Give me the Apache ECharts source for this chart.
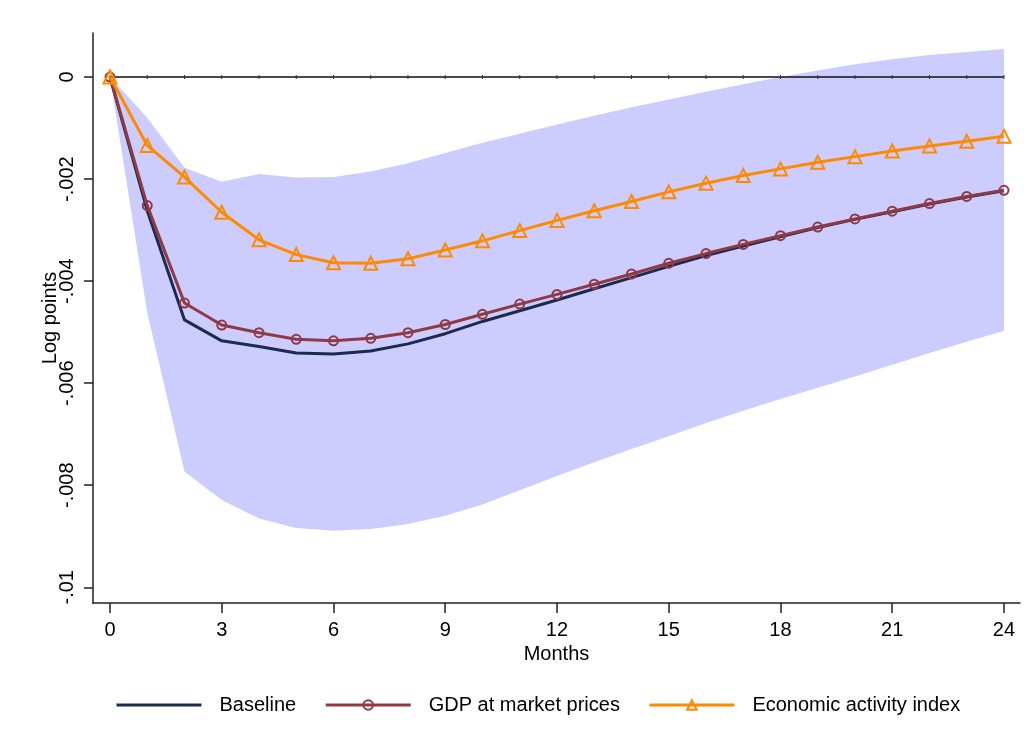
<!DOCTYPE html>
<html>
<head>
<meta charset="utf-8">
<script src="https://cdn.jsdelivr.net/npm/echarts@6/dist/echarts.min.js"></script>
<style>html,body{margin:0;padding:0;background:#fff;}#c{width:1036px;height:756px;}</style>
</head>
<body>
<div id="c"></div>
<script>
var months = [0,1,2,3,4,5,6,7,8,9,10,11,12,13,14,15,16,17,18,19,20,21,22,23,24];
var baseline = [0,-0.00262,-0.00476,-0.00517,-0.00528,-0.00541,-0.00543,-0.00537,-0.00523,-0.00503,-0.00479,-0.00458,-0.00437,-0.00415,-0.00393,-0.00371,-0.00350,-0.00331,-0.00313,-0.00295,-0.00279,-0.00264,-0.00249,-0.00235,-0.00223];
var gdp = [0,-0.00252,-0.00443,-0.00486,-0.00501,-0.00514,-0.00517,-0.00512,-0.00501,-0.00485,-0.00465,-0.00445,-0.00426,-0.00406,-0.00386,-0.00365,-0.00346,-0.00328,-0.00311,-0.00294,-0.00278,-0.00263,-0.00248,-0.00234,-0.00222];
var econ = [0,-0.00134,-0.00196,-0.00265,-0.00319,-0.00348,-0.00364,-0.00365,-0.00356,-0.00339,-0.00321,-0.00301,-0.00281,-0.00262,-0.00244,-0.00225,-0.00208,-0.00193,-0.00180,-0.00167,-0.00156,-0.00145,-0.00135,-0.00126,-0.00116];
var ciUpper = [0,-0.00080,-0.00178,-0.00205,-0.00190,-0.00197,-0.00196,-0.00185,-0.00169,-0.00149,-0.00129,-0.00111,-0.00093,-0.00076,-0.00059,-0.00044,-0.00029,-0.00014,0.00000,0.00013,0.00025,0.00035,0.00043,0.00049,0.00055];
var ciLower = [0,-0.00462,-0.00773,-0.00829,-0.00865,-0.00884,-0.00889,-0.00886,-0.00876,-0.00860,-0.00838,-0.00810,-0.00782,-0.00755,-0.00729,-0.00704,-0.00678,-0.00654,-0.00631,-0.00609,-0.00587,-0.00564,-0.00541,-0.00519,-0.00497];
var xTicks = [0,3,6,9,12,15,18,21,24];
var yTicks = [0,-0.002,-0.004,-0.006,-0.008,-0.01];
var yTickLabels = ['0','-.002','-.004','-.006','-.008','-.01'];
var seriesNames = ['Baseline','GDP at market prices','Economic activity index'];

function pairs(ys){ return months.map(function(m,i){ return [m, ys[i]]; }); }
var bandData = months.map(function(m,i){ return [m, ciLower[i], ciUpper[i]]; });

var FONT = 'Liberation Sans';
var NAVY = '#1b2b4e', MAROON = '#8e3a44', ORANGE = '#ff8a00', BAND = '#ccccff';

var chart = echarts.init(document.getElementById('c'), null, {renderer:'canvas'});
chart.setOption({
  animation: false,
  backgroundColor: '#fff',
  textStyle: {fontFamily: FONT},
  grid: {left: 93, right: 16, top: 33, bottom: 153, containLabel: false},
  xAxis: {
    type: 'value', min: -0.4564, max: 24.43,
    name: 'Months', nameLocation: 'middle', nameGap: 41, nameMoveOverlap: false,
    nameTextStyle: {fontSize: 20, color: '#000', fontFamily: FONT},
    axisLine: {show: true, onZero: false, lineStyle: {color: '#222', width: 1.5}},
    axisTick: {show: true, length: 10, customValues: xTicks, lineStyle: {color: '#222', width: 1.5}},
    axisLabel: {customValues: xTicks, margin: 17, fontSize: 20, color: '#000', fontFamily: FONT},
    splitLine: {show: false}
  },
  yAxis: {
    type: 'value', min: -0.010308, max: 0.000863,
    name: 'Log points', nameLocation: 'middle', nameGap: 33, nameMoveOverlap: false,
    nameTextStyle: {fontSize: 20, color: '#000', fontFamily: FONT},
    axisLine: {show: true, onZero: false, lineStyle: {color: '#222', width: 1.5}},
    axisTick: {show: true, length: 9, customValues: yTicks, lineStyle: {color: '#222', width: 1.5}},
    axisLabel: {
      customValues: yTicks, rotate: 90, margin: 16, fontSize: 20, color: '#000', fontFamily: FONT,
      formatter: function(v){
        var best = 0, d = Infinity;
        yTicks.forEach(function(t,i){ var dd = Math.abs(t - v); if (dd < d){ d = dd; best = i; } });
        return yTickLabels[best];
      }
    },
    splitLine: {show: false}
  },
  legend: {
    data: [
      {name: seriesNames[0], itemStyle: {color: 'rgba(0,0,0,0)', borderWidth: 0}, lineStyle: {width: 3}},
      {name: seriesNames[1], lineStyle: {width: 3}},
      {name: seriesNames[2], lineStyle: {width: 3}}
    ],
    left: 110, top: 690,
    itemWidth: 85, itemHeight: 12, itemGap: 28,
    textStyle: {fontSize: 20, color: '#000', fontFamily: FONT, padding: [0,0,0,13]}
  },
  series: [
    {
      name: 'ciBand', type: 'custom', data: bandData, silent: true, z: 1,
      encode: {x: 0, y: [1, 2]},
      renderItem: function(params, api){
        if (params.dataIndex !== 0) return null;
        var pts = [];
        for (var i = 0; i < bandData.length; i++) pts.push(api.coord([bandData[i][0], bandData[i][2]]));
        for (var j = bandData.length - 1; j >= 0; j--) pts.push(api.coord([bandData[j][0], bandData[j][1]]));
        return {type: 'polygon', shape: {points: pts}, style: {fill: BAND, stroke: null}};
      }
    },
    {
      name: 'zero', type: 'line', data: months.map(function(m){ return [m, 0]; }),
      symbol: 'rect', symbolSize: [1, 4], showSymbol: true,
      itemStyle: {color: '#333'}, lineStyle: {color: '#111', width: 1.5}, silent: true, z: 2
    },
    {
      name: seriesNames[0], type: 'line', data: pairs(baseline), symbol: 'none',
      lineStyle: {color: NAVY, width: 3}, itemStyle: {color: NAVY}, z: 3
    },
    {
      name: seriesNames[1], type: 'line', data: pairs(gdp),
      symbol: 'circle', symbolSize: 9, showSymbol: true,
      lineStyle: {color: MAROON, width: 3},
      itemStyle: {color: 'rgba(0,0,0,0)', borderColor: MAROON, borderWidth: 2}, z: 4
    },
    {
      name: seriesNames[2], type: 'line', data: pairs(econ),
      symbol: 'triangle', symbolSize: 13, showSymbol: true,
      lineStyle: {color: ORANGE, width: 3},
      itemStyle: {color: 'rgba(0,0,0,0)', borderColor: ORANGE, borderWidth: 2}, z: 5
    }
  ]
});
</script>
</body>
</html>
